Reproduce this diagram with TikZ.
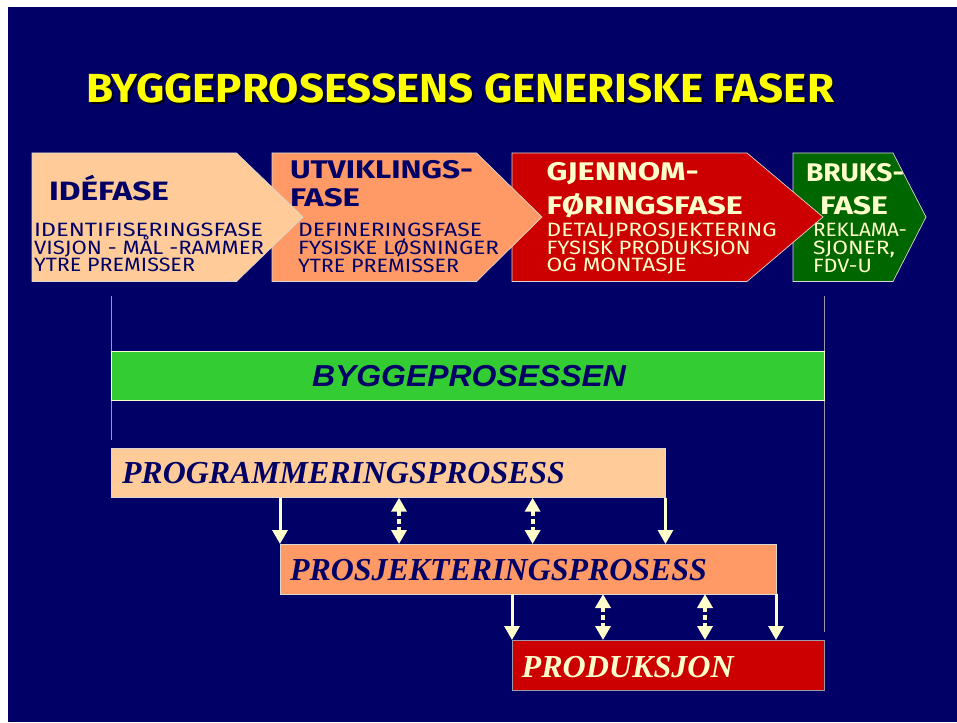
\documentclass[tikz,border=0pt]{standalone}
\usepackage{fontspec}
\usepackage{graphicx}
\usetikzlibrary{arrows.meta}
\setmainfont{Liberation Serif}
\newfontfamily\casualfont{Fira Sans}
\newfontfamily\arialfont{Liberation Sans}
\newfontfamily\timesfont{Liberation Serif}
\definecolor{navy}{HTML}{000066}
\definecolor{peach}{HTML}{FFCC99}
\definecolor{salmon}{HTML}{FF9966}
\definecolor{phasered}{HTML}{CC0000}
\definecolor{phasegreen}{HTML}{006600}
\definecolor{bargreen}{HTML}{33CC33}
\definecolor{cream}{HTML}{FFFFCC}
\definecolor{titleyellow}{HTML}{FFFF00}
\definecolor{edgegray}{HTML}{D8D8D0}
\definecolor{rulegray}{HTML}{9A9AAA}
% stretch a line horizontally to a given width, keeping its height
\newcommand\wfit[2]{\resizebox{#1}{\height}{#2}}
% text with a dark drop shadow offset down and to the right
\newcommand\shadowed[1]{\makebox[0pt][l]{\hspace{2pt}\raisebox{-2pt}{\color{black}#1}}#1}
\begin{document}
\begin{tikzpicture}[x=1pt,y=-1pt,
  txt/.style={anchor=base west, inner sep=0pt, outer sep=0pt},
  titlefont/.style={font=\casualfont\bfseries\fontsize{40.6}{44}\selectfont},
  headfont/.style={font=\casualfont\bfseries\fontsize{25.5}{28}\selectfont},
  subfont/.style={font=\casualfont\fontsize{19.3}{21}\selectfont},
  procfont/.style={font=\timesfont\bfseries\itshape\fontsize{32}{34}\selectfont},
  phaseedge/.style={draw=edgegray, line width=0.7pt},
  procbox/.style={draw=edgegray, line width=0.8pt, anchor=north west, inner sep=0pt, outer sep=0pt},
  solidarr/.style={draw=cream, line width=3pt, -{Triangle[width=15pt,length=14pt]}},
  dblarr/.style={draw=cream, line width=4pt, dash pattern=on 5pt off 3pt,
    {Triangle[width=15pt,length=14pt]}-{Triangle[width=15pt,length=14pt]}},
  rulel/.style={draw=rulegray, line width=1pt}]
\useasboundingbox (0,0) rectangle (957,722);
\fill[navy] (8,7) rectangle (957,722);

% title with drop shadow
\node[txt, titlefont, text=titleyellow] (title) at (86,103)
  {\shadowed{\wfit{748pt}{BYGGEPROSESSENS GENERISKE FASER}}};

% phase chevrons, drawn last-to-first so each tip overlaps the next phase
\filldraw[phaseedge, fill=phasegreen] (793,153) -- (893,153) -- (926,217) -- (893,281.5) -- (793,281.5) -- cycle;
\filldraw[phaseedge, fill=phasered] (512,153) -- (747,153) -- (823,217) -- (747,281.5) -- (512,281.5) -- cycle;
\filldraw[phaseedge, fill=salmon] (272,153) -- (476.5,153) -- (542,217) -- (476.5,281.5) -- (272,281.5) -- cycle;
\filldraw[phaseedge, fill=peach] (32,153) -- (236.5,153) -- (303,217) -- (236.5,281.5) -- (32,281.5) -- cycle;

% phase 1
\node[txt, text=navy, font=\casualfont\bfseries\fontsize{26.5}{28}\selectfont] (ide) at (49,200) {\wfit{120pt}{IDÉFASE}};
\node[txt, subfont, text=navy] (ide1) at (34,236.5) {\wfit{229pt}{IDENTIFISERINGSFASE}};
\node[txt, subfont, text=navy] (ide2) at (34,254) {\wfit{230pt}{VISJON - MÅL -RAMMER}};
\node[txt, subfont, text=navy] (ide3) at (34,271.5) {\wfit{161pt}{YTRE PREMISSER}};

% phase 2
\node[txt, headfont, text=navy] (utv1) at (290,178.3) {\wfit{183pt}{UTVIKLINGS-}};
\node[txt, headfont, text=navy] (utv2) at (290,206.7) {\wfit{70pt}{FASE}};
\node[txt, subfont, text=navy] (utvs1) at (298,236.5) {\wfit{184pt}{DEFINERINGSFASE}};
\node[txt, subfont, text=navy] (utvs2) at (298,254.5) {\wfit{201pt}{FYSISKE LØSNINGER}};
\node[txt, subfont, text=navy] (utvs3) at (298,272) {\wfit{161pt}{YTRE PREMISSER}};

% phase 3
\node[txt, headfont, text=cream] (gj1) at (546.7,180.7) {\wfit{152pt}{GJENNOM-}};
\node[txt, headfont, text=cream] (gj2) at (546.7,214) {\wfit{196pt}{FØRINGSFASE}};
\node[txt, subfont, text=cream] (gjs1) at (546.7,236) {\wfit{230pt}{DETALJPROSJEKTERING}};
\node[txt, subfont, text=cream] (gjs2) at (546.7,254) {\wfit{204pt}{FYSISK PRODUKSJON}};
\node[txt, subfont, text=cream] (gjs3) at (546.7,271.5) {\wfit{140pt}{OG MONTASJE}};

% phase 4
\node[txt, headfont, text=cream] (br1) at (806,181.7) {\wfit{98pt}{BRUKS-}};
\node[txt, headfont, text=cream] (br2) at (820,214) {\wfit{68pt}{FASE}};
\node[txt, subfont, text=cream] (brs1) at (813,236.5) {\wfit{94pt}{REKLAMA-}};
\node[txt, subfont, text=cream] (brs2) at (813,254) {\wfit{82pt}{SJONER,}};
\node[txt, subfont, text=cream] (brs3) at (813,272) {\wfit{59pt}{FDV-U}};

% span markers of the building process
\coordinate (ltop) at (111.7,296);
\coordinate (lbot) at (111.7,440);
\coordinate (rtop) at (824,296);
\coordinate (rbot) at (824,632);
\draw[rulel] (ltop) -- (lbot);
\draw[rulel] (rtop) -- (rbot);

% building process bar
\node[procbox, draw=cream!85!white, fill=bargreen, minimum width=712.3pt, minimum height=49pt] (bar) at (111.7,351) {};
\node[txt, text=navy, font=\arialfont\bfseries\itshape\fontsize{30.3}{32}\selectfont] (bartxt) at (312,386.7) {\wfit{314pt}{BYGGEPROSESSEN}};

% sub-processes
\node[procbox, fill=peach, minimum width=554.5pt, minimum height=49.7pt] (prog) at (111,448) {};
\node[txt, procfont, text=navy] (progtxt) at (122,483.3) {\wfit{443pt}{PROGRAMMERINGSPROSESS}};

\node[procbox, fill=salmon, minimum width=496pt, minimum height=50pt] (prosj) at (280,544) {};
\node[txt, procfont, text=navy] (prosjtxt) at (290,580) {\wfit{417pt}{PROSJEKTERINGSPROSESS}};

\node[procbox, fill=phasered, draw=rulegray, minimum width=312.3pt, minimum height=50pt] (prod) at (512,640) {};
\node[txt, procfont, text=cream] (prodtxt) at (521.7,677.3) {\wfit{212pt}{PRODUKSJON}};

% links between programming and design
\draw[solidarr] (prosj.west |- prog.south) -- (prosj.north west);
\draw[dblarr] ([xshift=288pt]prog.south west) -- ([xshift=288pt]prog.south west |- prosj.north);
\draw[dblarr] ([xshift=421.6pt]prog.south west) -- ([xshift=421.6pt]prog.south west |- prosj.north);
\draw[solidarr] (prog.south east) -- (prog.south east |- prosj.north);

% links between design and production
\draw[solidarr] (prod.west |- prosj.south) -- (prod.north west);
\draw[dblarr] ([xshift=323pt]prosj.south west) -- ([xshift=323pt]prosj.south west |- prod.north);
\draw[dblarr] ([xshift=425pt]prosj.south west) -- ([xshift=425pt]prosj.south west |- prod.north);
\draw[solidarr] (prosj.south east) -- (prosj.south east |- prod.north);
\end{tikzpicture}
\end{document}
